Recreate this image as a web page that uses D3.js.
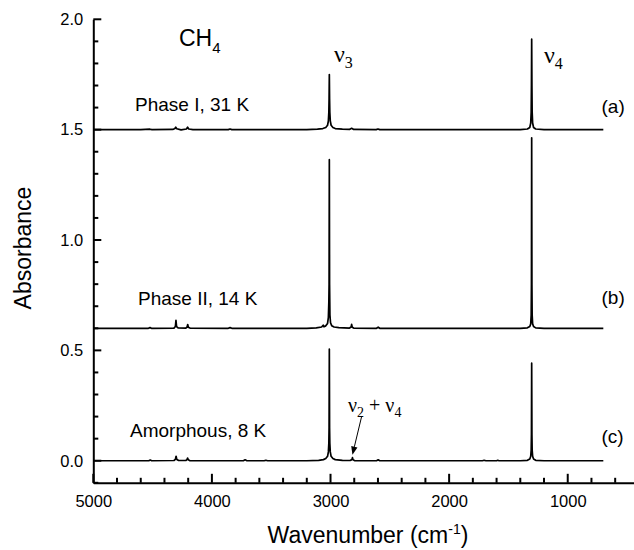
<!DOCTYPE html>
<html>
<head>
<meta charset="utf-8">
<script src="https://cdn.jsdelivr.net/npm/d3@7"></script>
<style>
  html, body { margin: 0; padding: 0; background: #fff; }
  svg { display: block; }
  text { font-family: "Liberation Sans", Arial, sans-serif; fill: #000; }
  .serif { font-family: "Liberation Serif", "Times New Roman", serif; }
</style>
</head>
<body>
<svg id="chart" width="634" height="550"></svg>
<script>
// ---- Data (wavenumber cm^-1, absorbance) ----
const phaseI = [
  [5000,1.5],[4600,1.5],[4522,1.502],[4505,1.5],[4330,1.501],[4312,1.505],[4305,1.511],[4296,1.504],[4260,1.499],
  [4215,1.503],[4205,1.511],[4195,1.503],[4160,1.5],[3862,1.5],[3847,1.503],[3832,1.5],[3200,1.5],[3110,1.502],
  [3065,1.505],[3040,1.51],[3025,1.52],[3018,1.54],[3014,1.58],[3012,1.64],[3010,1.75],[3008,1.64],[3006,1.58],
  [3002,1.54],[2995,1.52],[2980,1.51],[2960,1.505],[2900,1.502],[2840,1.501],[2822,1.506],[2805,1.501],
  [2615,1.5],[2600,1.503],[2585,1.5],[1400,1.5],[1340,1.503],[1320,1.51],[1312,1.53],[1308,1.58],[1306,1.7],
  [1304,1.91],[1302,1.7],[1300,1.58],[1296,1.53],[1288,1.51],[1270,1.503],[1200,1.5],[700,1.5]
];
const phaseII = [
  [5000,0.6],[4535,0.6],[4522,0.603],[4510,0.6],[4320,0.601],[4308,0.608],[4303,0.636],[4298,0.608],[4285,0.602],
  [4220,0.601],[4209,0.606],[4204,0.617],[4199,0.605],[4185,0.601],[3862,0.6],[3847,0.603],[3832,0.6],
  [3200,0.6],[3120,0.602],[3075,0.606],[3062,0.614],[3055,0.607],[3040,0.611],[3025,0.622],[3018,0.65],
  [3014,0.72],[3012,0.8],[3010,1.364],[3008,0.8],[3005,0.66],[3000,0.625],[2990,0.612],[2970,0.606],
  [2930,0.603],[2840,0.601],[2826,0.606],[2822,0.618],[2817,0.605],[2805,0.601],[2612,0.6],[2598,0.605],
  [2585,0.6],[1400,0.6],[1340,0.602],[1320,0.608],[1312,0.62],[1308,0.66],[1306,0.8],[1304,1.463],[1302,0.8],
  [1300,0.66],[1296,0.62],[1288,0.608],[1270,0.602],[1200,0.6],[700,0.6]
];
const amorphous = [
  [5000,0],[4532,0],[4520,0.003],[4508,0],[4320,0.001],[4308,0.006],[4302,0.02],[4296,0.006],[4280,0.001],
  [4220,0.001],[4210,0.005],[4205,0.012],[4199,0.004],[4185,0],[3735,0],[3720,0.004],[3705,0],[3560,0],
  [3545,0.002],[3530,0],[3200,0],[3100,0.002],[3060,0.005],[3040,0.01],[3025,0.02],[3018,0.04],[3014,0.08],
  [3012,0.15],[3010,0.506],[3008,0.15],[3006,0.08],[3002,0.04],[2995,0.02],[2980,0.01],[2960,0.005],
  [2900,0.002],[2835,0.001],[2820,0.005],[2815,0.014],[2810,0.004],[2795,0],[2612,0],[2598,0.004],[2585,0],
  [1720,0],[1705,0.002],[1690,0],[1600,0],[1590,0.002],[1580,0],[1400,0],[1340,0.002],[1320,0.008],
  [1312,0.02],[1308,0.05],[1306,0.12],[1304,0.442],[1302,0.12],[1300,0.05],[1296,0.02],[1288,0.008],
  [1270,0.002],[1200,0],[700,0]
];
const xMajorTicks = [5000, 4000, 3000, 2000, 1000];
const xMinorTicks = [4800,4600,4400,4200,3800,3600,3400,3200,2800,2600,2400,2200,1800,1600,1400,1200,800,600];
const yMajorTicks = [0.0, 0.5, 1.0, 1.5, 2.0];
const yMinorTicks = [-0.1,0.1,0.2,0.3,0.4,0.6,0.7,0.8,0.9,1.1,1.2,1.3,1.4,1.6,1.7,1.8,1.9];
const spectrumLabels = ["Phase I, 31 K", "Phase II, 14 K", "Amorphous, 8 K"];
const panelLabels = ["(a)", "(b)", "(c)"];

// ---- Scales ----
const svg = d3.select("#chart");
const x = d3.scaleLinear().domain([5000, 400]).range([93.3, 638.9]);
const y = d3.scaleLinear().domain([-0.1, 2.0]).range([482.8, 19.3]);

// ---- Spectra ----
const line = d3.line().x(d => x(d[0])).y(d => y(d[1]));
[phaseI, phaseII, amorphous].forEach(s => {
  svg.append("path").datum(s).attr("d", line)
    .attr("fill", "none").attr("stroke", "#000").attr("stroke-width", 1.7)
    .attr("stroke-linejoin", "round");
});

// ---- Axes (labels + domain via d3.axis) ----
const axisFont = "16.5px";
function styleAxis(g) {
  g.selectAll(".domain").attr("stroke", "#000").attr("stroke-width", 2);
  g.selectAll(".tick line").remove();
  g.selectAll(".tick text").style("font-size", axisFont).attr("fill", "#000");
}
const x0 = y(-0.1), y0 = x(5000);
svg.append("g").attr("transform", `translate(0,${x0})`)
  .call(d3.axisBottom(x).tickValues(xMajorTicks).tickSize(0).tickPadding(12).tickFormat(d3.format("d")))
  .call(styleAxis);
svg.append("g").attr("transform", `translate(${y0},0)`)
  .call(d3.axisLeft(y).tickValues(yMajorTicks).tickSize(0).tickPadding(10).tickFormat(d3.format(".1f")))
  .call(styleAxis);

// inward tick marks
const tk = svg.append("g").attr("stroke", "#000").attr("stroke-width", 2);
tk.selectAll("line.xt").data(xMajorTicks.map(v => [v, 9]).concat(xMinorTicks.map(v => [v, 5])))
  .join("line").attr("class", "xt")
  .attr("x1", d => x(d[0])).attr("x2", d => x(d[0]))
  .attr("y1", x0).attr("y2", d => x0 - d[1]);
tk.selectAll("line.yt").data(yMajorTicks.map(v => [v, 8]).concat(yMinorTicks.map(v => [v, 5])))
  .join("line").attr("class", "yt")
  .attr("y1", d => y(d[0])).attr("y2", d => y(d[0]))
  .attr("x1", y0).attr("x2", d => y0 + d[1]);

// ---- Axis titles ----
svg.append("text").attr("transform", "translate(31,248) rotate(-90)")
  .attr("text-anchor", "middle").style("font-size", "23px").text("Absorbance");
const xt = svg.append("text").attr("x", 368).attr("y", 543).attr("text-anchor", "middle").style("font-size", "23px");
xt.append("tspan").text("Wavenumber (cm");
xt.append("tspan").attr("dy", -9).style("font-size", "14px").text("-1");
xt.append("tspan").attr("dy", 9).text(")");

// ---- Annotations ----
const ch = svg.append("text").attr("x", 179).attr("y", 46).style("font-size", "23px");
ch.append("tspan").text("CH");
ch.append("tspan").attr("dy", 7).style("font-size", "15px").text("4");

const labY = [111, 305, 437];
spectrumLabels.forEach((t, i) => {
  svg.append("text").attr("x", [135, 138, 130][i]).attr("y", labY[i]).style("font-size", "19px").text(t);
});
const panY = [113, 304, 443];
panelLabels.forEach((t, i) => {
  svg.append("text").attr("x", 601.5).attr("y", panY[i]).style("font-size", "19px").text(t);
});

function nu(xp, yp, sub, size, subSize) {
  const t = svg.append("text").attr("x", xp).attr("y", yp).attr("class", "serif").style("font-size", size + "px");
  t.append("tspan").text("ν");
  t.append("tspan").attr("dy", 6).style("font-size", subSize + "px").text(sub);
  return t;
}
nu(334, 62, "3", 24, 16);
nu(544, 63, "4", 24, 16);

const comb = svg.append("text").attr("x", 348).attr("y", 412).attr("class", "serif").style("font-size", "20px");
comb.append("tspan").text("ν");
comb.append("tspan").attr("dy", 5).style("font-size", "14px").text("2");
comb.append("tspan").attr("dy", -5).text(" + ν");
comb.append("tspan").attr("dy", 5).style("font-size", "14px").text("4");

// arrow pointing at the ν2+ν4 combination band of the amorphous spectrum
const ax1 = 361.5, ay1 = 417, ax2 = x(2815), ay2 = y(0.014) - 3;
const ang = Math.atan2(ay2 - ay1, ax2 - ax1);
const hl = 8, hw = 3.2;
const bx = ax2 - hl * Math.cos(ang), by = ay2 - hl * Math.sin(ang);
svg.append("line").attr("x1", ax1).attr("y1", ay1).attr("x2", bx).attr("y2", by)
  .attr("stroke", "#000").attr("stroke-width", 1);
svg.append("path")
  .attr("d", `M${ax2},${ay2}L${bx - hw * Math.sin(ang)},${by + hw * Math.cos(ang)}L${bx + hw * Math.sin(ang)},${by - hw * Math.cos(ang)}Z`)
  .attr("fill", "#000");
</script>
</body>
</html>
